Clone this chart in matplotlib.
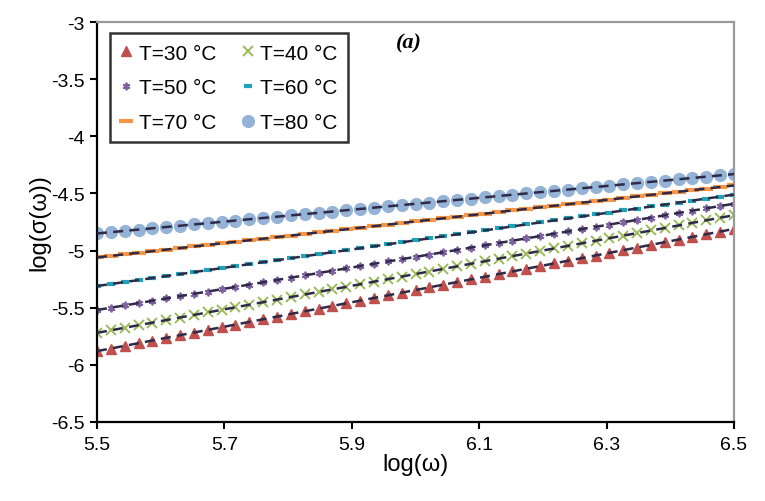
import matplotlib
matplotlib.use("Agg")
import matplotlib.pyplot as plt
import numpy as np

plt.rcParams['font.family'] = ['Liberation Sans', 'DejaVu Sans']

log_w = [5.5, 5.5217, 5.5435, 5.5652, 5.587, 5.6087, 5.6304, 5.6522, 5.6739, 5.6957,
         5.7174, 5.7391, 5.7609, 5.7826, 5.8043, 5.8261, 5.8478, 5.8696, 5.8913, 5.913,
         5.9348, 5.9565, 5.9783, 6.0, 6.0217, 6.0435, 6.0652, 6.087, 6.1087, 6.1304,
         6.1522, 6.1739, 6.1957, 6.2174, 6.2391, 6.2609, 6.2826, 6.3043, 6.3261, 6.3478,
         6.3696, 6.3913, 6.413, 6.4348, 6.4565, 6.4783, 6.5]

T30 = [-5.880, -5.857, -5.833, -5.810, -5.787, -5.764, -5.740, -5.717, -5.694, -5.671,
       -5.647, -5.624, -5.601, -5.578, -5.554, -5.531, -5.508, -5.485, -5.461, -5.438,
       -5.415, -5.392, -5.368, -5.345, -5.322, -5.299, -5.275, -5.252, -5.229, -5.205,
       -5.182, -5.159, -5.136, -5.112, -5.089, -5.066, -5.043, -5.019, -4.996, -4.973,
       -4.950, -4.926, -4.903, -4.880, -4.857, -4.833, -4.810]
T40 = [-5.720, -5.698, -5.675, -5.653, -5.630, -5.608, -5.586, -5.563, -5.541, -5.518,
       -5.496, -5.474, -5.451, -5.429, -5.407, -5.384, -5.362, -5.339, -5.317, -5.295,
       -5.272, -5.250, -5.227, -5.205, -5.183, -5.160, -5.138, -5.115, -5.093, -5.071,
       -5.048, -5.026, -5.004, -4.981, -4.959, -4.936, -4.914, -4.892, -4.869, -4.847,
       -4.824, -4.802, -4.780, -4.757, -4.735, -4.712, -4.690]
T50 = [-5.520, -5.500, -5.480, -5.459, -5.439, -5.419, -5.399, -5.378, -5.358, -5.338,
       -5.318, -5.298, -5.277, -5.257, -5.237, -5.217, -5.196, -5.176, -5.156, -5.136,
       -5.116, -5.095, -5.075, -5.055, -5.035, -5.014, -4.994, -4.974, -4.954, -4.934,
       -4.913, -4.893, -4.873, -4.853, -4.832, -4.812, -4.792, -4.772, -4.752, -4.731,
       -4.711, -4.691, -4.671, -4.650, -4.630, -4.610, -4.590]
T60 = [-5.310, -5.293, -5.275, -5.258, -5.240, -5.223, -5.206, -5.188, -5.171, -5.153,
       -5.136, -5.119, -5.101, -5.084, -5.067, -5.049, -5.032, -5.014, -4.997, -4.980,
       -4.962, -4.945, -4.927, -4.910, -4.893, -4.875, -4.858, -4.840, -4.823, -4.806,
       -4.788, -4.771, -4.753, -4.736, -4.719, -4.701, -4.684, -4.667, -4.649, -4.632,
       -4.614, -4.597, -4.580, -4.562, -4.545, -4.527, -4.510]
T70 = [-5.060, -5.046, -5.033, -5.019, -5.005, -4.992, -4.978, -4.964, -4.950, -4.937,
       -4.923, -4.909, -4.896, -4.882, -4.868, -4.855, -4.841, -4.827, -4.813, -4.800,
       -4.786, -4.772, -4.759, -4.745, -4.731, -4.718, -4.704, -4.690, -4.677, -4.663,
       -4.649, -4.635, -4.622, -4.608, -4.594, -4.581, -4.567, -4.553, -4.540, -4.526,
       -4.512, -4.498, -4.485, -4.471, -4.457, -4.444, -4.430]
T80 = [-4.850, -4.839, -4.827, -4.816, -4.805, -4.793, -4.782, -4.771, -4.760, -4.748,
       -4.737, -4.726, -4.714, -4.703, -4.692, -4.680, -4.669, -4.658, -4.647, -4.635,
       -4.624, -4.613, -4.601, -4.590, -4.579, -4.568, -4.556, -4.545, -4.534, -4.522,
       -4.511, -4.500, -4.488, -4.477, -4.466, -4.455, -4.443, -4.432, -4.421, -4.409,
       -4.398, -4.387, -4.375, -4.364, -4.353, -4.342, -4.330]

labels = ["T=30 °C", "T=40 °C", "T=50 °C", "T=60 °C", "T=70 °C", "T=80 °C"]
series = [T30, T40, T50, T60, T70, T80]
colors = ["#C0504D", "#9BBB59", "#8064A2", "#1FA3B8", "#F79646", "#95B3D7"]
markers = ["^", "x", (6, 2, 0), "_", "_", "o"]
msizes = [7, 7, 5.5, 6, 10, 8.5]
medges = [1.0, 1.4, 1.3, 3.0, 3.0, 1.0]

fig = plt.figure(figsize=(7.65, 5.02), dpi=100)
ax = fig.add_axes([0.1268, 0.1574, 0.8327, 0.7966])

x = np.array(log_w)
handles = []
for y, lab, c, m, ms, mew in zip(series, labels, colors, markers, msizes, medges):
    h, = ax.plot(x, y, linestyle='none', marker=m, color=c, markersize=ms,
                 markeredgewidth=mew, label=lab)
    handles.append(h)
for y in series:
    p = np.polyfit(x, np.array(y), 1)
    ax.plot(x, np.polyval(p, x), linestyle=(0, (4, 2.5)), color="#2F2A48", lw=1.8, zorder=3)

ax.set_xlim(5.5, 6.5)
ax.set_ylim(-6.5, -3)
ax.set_xticks([5.5, 5.7, 5.9, 6.1, 6.3, 6.5])
ax.set_xticklabels(["5.5", "5.7", "5.9", "6.1", "6.3", "6.5"])
ax.set_yticks([-6.5, -6, -5.5, -5, -4.5, -4, -3.5, -3])
ax.set_yticklabels(["-6.5", "-6", "-5.5", "-5", "-4.5", "-4", "-3.5", "-3"])
ax.tick_params(axis='both', direction='out', length=5, width=1.5, labelsize=14, colors='black')
ax.tick_params(axis='x', pad=5)
ax.tick_params(axis='y', pad=4)

for s in ['left', 'bottom']:
    ax.spines[s].set_color('black')
    ax.spines[s].set_linewidth(1.6)
for s in ['top', 'right']:
    ax.spines[s].set_color('#9A9A9A')
    ax.spines[s].set_linewidth(1.6)

ax.set_xlabel("log(ω)", fontsize=17, labelpad=0)
ax.set_ylabel("log(σ(ω))", fontsize=17, labelpad=0)

ax.text(5.99, -3.18, "(a)", fontsize=16, fontweight='bold', fontstyle='italic',
        family='Liberation Serif', ha='center', va='center')

order = [0, 2, 4, 1, 3, 5]
leg = ax.legend(handles=[handles[i] for i in order], ncol=2, loc='upper left',
                bbox_to_anchor=(0.02, 0.972),
                fontsize=15, frameon=True, fancybox=False, edgecolor='black',
                handlelength=0.6, handletextpad=0.3, columnspacing=1.2,
                labelspacing=0.75, borderpad=0.5, borderaxespad=0)
leg.get_frame().set_linewidth(1.8)

fig.savefig("out.png", dpi=100)
